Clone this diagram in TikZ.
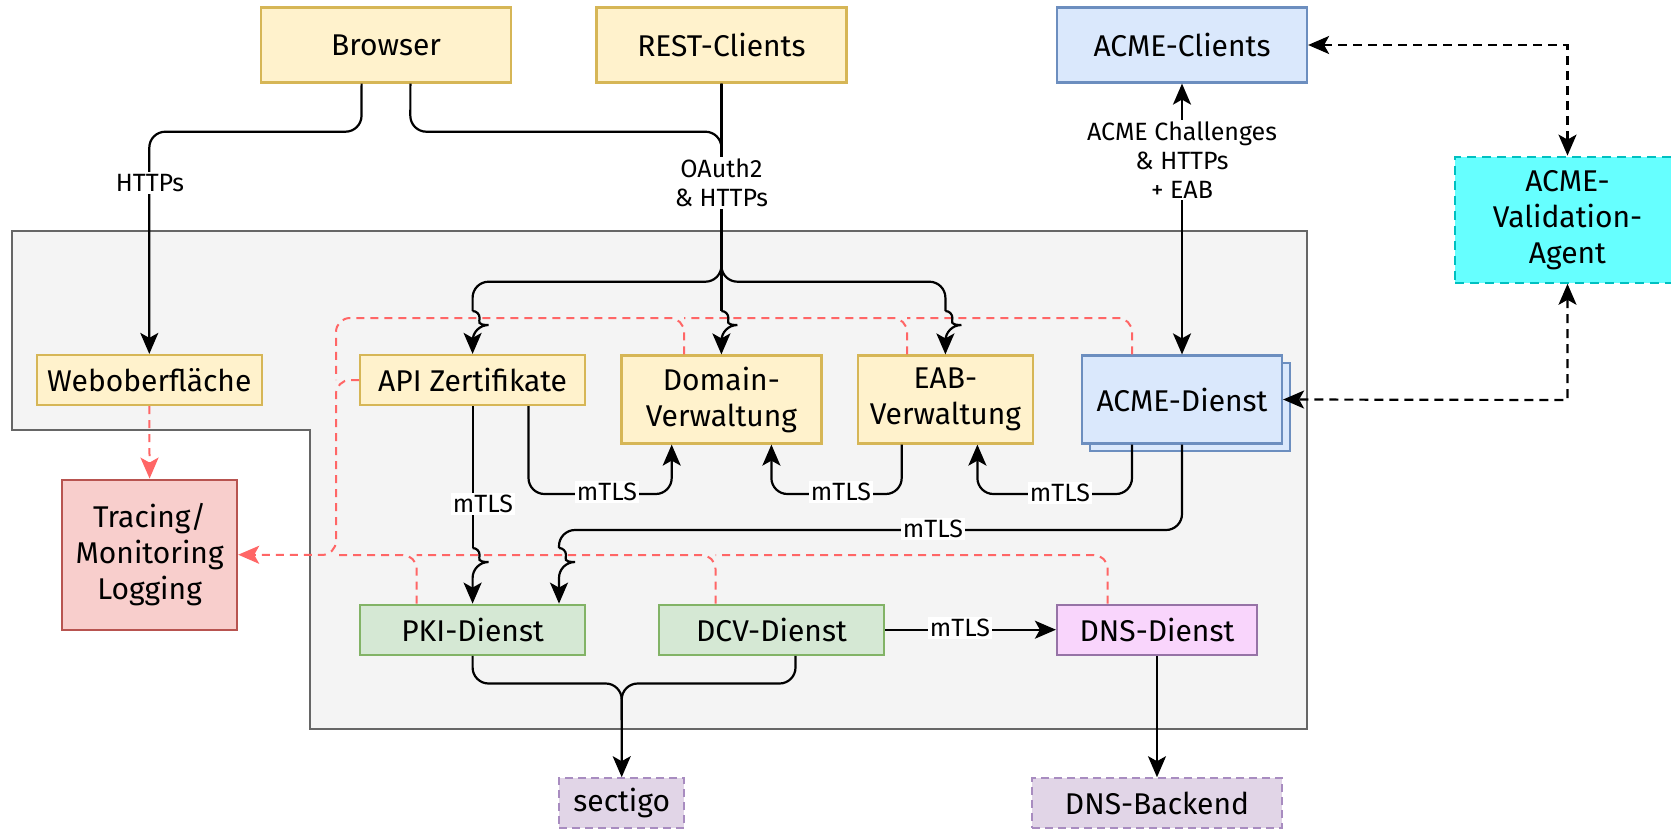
\documentclass[tikz,border=0pt]{standalone}
\usepackage{fontspec}
\setmainfont{Fira Sans}
\usetikzlibrary{arrows.meta,calc}
\definecolor{yfill}{HTML}{FFF2CC}
\definecolor{ystroke}{HTML}{D6B656}
\definecolor{bfill}{HTML}{DAE8FC}
\definecolor{bstroke}{HTML}{6C8EBF}
\definecolor{rfill}{HTML}{F8CECC}
\definecolor{rstroke}{HTML}{B85450}
\definecolor{gfill}{HTML}{D5E8D4}
\definecolor{gstroke}{HTML}{82B366}
\definecolor{pfill}{HTML}{F9D5FC}
\definecolor{pstroke}{HTML}{9673A6}
\definecolor{lfill}{HTML}{E1D5E7}
\definecolor{lstroke}{HTML}{A88CC0}
\definecolor{cfill}{HTML}{66FFFF}
\definecolor{cstroke}{HTML}{00C0C0}
\definecolor{grayfill}{HTML}{F4F4F4}
\definecolor{graystroke}{HTML}{666666}
\definecolor{logred}{HTML}{FF6666}
\begin{document}
\begin{tikzpicture}[x=1pt,y=-1pt,
  box/.style={draw, line width=2.2pt, inner sep=0pt, align=center, font=\fontsize{30}{36}\selectfont},
  ybox/.style={box, fill=yfill, draw=ystroke},
  bbox/.style={box, fill=bfill, draw=bstroke},
  rbox/.style={box, fill=rfill, draw=rstroke},
  gbox/.style={box, fill=gfill, draw=gstroke},
  pbox/.style={box, fill=pfill, draw=pstroke},
  lbox/.style={box, fill=lfill, draw=lstroke, dash pattern=on 8pt off 5pt},
  cbox/.style={box, fill=cfill, draw=cstroke, dash pattern=on 9pt off 6pt},
  conn/.style={line width=2.2pt, rounded corners=16pt},
  tip/.style={-{Stealth[length=21pt,width=18pt,inset=5pt]}},
  tips/.style={{Stealth[length=21pt,width=18pt,inset=5pt]}-{Stealth[length=21pt,width=18pt,inset=5pt]}},
  bdash/.style={line width=2.2pt, dash pattern=on 9pt off 6pt},
  lbl/.style={fill=white, inner sep=2pt, align=center, font=\fontsize{25}{29}\selectfont},
  logl/.style={draw=logred, line width=2pt, dash pattern=on 8pt off 6pt, rounded corners=14pt},
  logtip/.style={-{Stealth[length=21pt,width=18pt,inset=5pt]}},
]
\useasboundingbox (0,0) rectangle (1671,833);
\clip (0,0) rectangle (1671,833);
\fill[white] (0,0) rectangle (1671,833);

% container
\draw[fill=grayfill, draw=graystroke, line width=2.2pt]
  (12,230.7) -- (1306.8,230.7) -- (1306.8,729.3) -- (310,729.3) -- (310,430) -- (12,430) -- cycle;

% nodes
\node[ybox, minimum width=250pt, minimum height=75pt] (browser) at (386,45) {Browser};
\node[ybox, minimum width=250pt, minimum height=75pt] (rest) at (721.4,45) {REST-Clients};
\node[bbox, minimum width=250pt, minimum height=75pt] (acmec) at (1182,45) {ACME-Clients};
\node[cbox, minimum width=225pt, minimum height=126pt] (agent) at (1567.5,219.7) {ACME-\\Validation-\\Agent};
\node[ybox, minimum width=225pt, minimum height=50pt] (web) at (149.3,380) {Weboberfläche};
\node[ybox, minimum width=225pt, minimum height=50pt] (api) at (472.6,380) {API Zertifikate};
\node[ybox, minimum width=200pt, minimum height=88pt] (domain) at (721.4,399.5) {Domain-\\Verwaltung};
\node[ybox, minimum width=175pt, minimum height=88pt] (eab) at (945.4,399.5) {EAB-\\Verwaltung};
\draw[fill=bfill, draw=bstroke, line width=2.2pt] (1090,363) rectangle (1290,451);
\node[bbox, minimum width=200pt, minimum height=88pt] (acmed) at (1182,399.5) {ACME-Dienst};
\node[rbox, minimum width=175pt, minimum height=150pt] (tracing) at (149.6,554.7) {Tracing/\\Monitoring\\Logging};
\node[gbox, minimum width=225pt, minimum height=50pt] (pki) at (472.6,629.7) {PKI-Dienst};
\node[gbox, minimum width=225pt, minimum height=50pt] (dcv) at (771.5,629.7) {DCV-Dienst};
\node[pbox, minimum width=200pt, minimum height=50pt] (dns) at (1157,629.7) {DNS-Dienst};
\node[lbox, minimum width=125pt, minimum height=50pt] (sectigo) at (621.7,803.3) {sectigo};
\node[lbox, minimum width=250pt, minimum height=50pt] (dnsb) at (1157,803.3) {DNS-Backend};

% logging (red dashed)
\coordinate (logtop) at (336,318);
\coordinate (logbot) at (336,555);
\draw[logl,logtip] (api.west) -- (336,380) -- (logbot) -- (tracing.east);
\draw[logl] ($(domain.north)+(-37.4,0)$) -- (684,318) -- (logtop) -- (336,380);
\draw[logl] ($(eab.north)+(-38.4,0)$) -- (907,318) -- (684,318);
\draw[logl] ($(acmed.north)+(-50,0)$) -- (1132,318) -- (907,318);
\draw[logl] ($(pki.north)+(-55.9,0)$) -- (416.7,555) -- (logbot);
\draw[logl] ($(dcv.north)+(-56,0)$) -- (715.5,555) -- (416.7,555);
\draw[logl] ($(dns.north)+(-49.3,0)$) -- (1107.7,555) -- (715.5,555);
\draw[logl,logtip] (web.south) -- (tracing.north);

% Browser
\draw[conn,tip] ($(browser.south)+(-24.4,0)$) -- (361.5,131.7) -- (149.3,131.7) -- (web.north);
\draw[conn] ($(browser.south)+(24.4,0)$) -- (410.3,131.7) -- (721.4,131.7) -- (721.4,190);

% REST
\draw[conn] (rest.south) -- (721.4,281.7) -- (472.6,281.7) -- (472.6,311);
\draw[conn,tip] (472.6,311) arc[start angle=-90,end angle=90,radius=7] -- (api.north);
\draw[conn] (rest.south) -- (721.4,311);
\draw[conn,tip] (721.4,311) arc[start angle=-90,end angle=90,radius=7] -- (domain.north);
\draw[conn] (rest.south) -- (721.4,281.7) -- (945.4,281.7) -- (945.4,311);
\draw[conn,tip] (945.4,311) arc[start angle=-90,end angle=90,radius=7] -- (eab.north);

% ACME clients <-> ACME dienst
\draw[line width=2.2pt,tips] (acmec.south) -- (acmed.north);
% Agent
\draw[bdash,tips] (acmec.east) -- (1567.5,45) -- (agent.north);
\draw[bdash,tips] (agent.south) -- (1567.5,400) -- (acmed.east);

% mTLS connections
\draw[conn] ($(api.south)$) -- (472.6,548);
\draw[conn,tip] (472.6,548) arc[start angle=-90,end angle=90,radius=7] -- (pki.north);
\draw[conn,tip] ($(api.south)+(55.9,0)$) -- (528.5,494) -- (671.7,494) -- ($(domain.south)+(-49.7,0)$);
\draw[conn,tip] ($(eab.south)+(-43.7,0)$) -- (901.7,494) -- (771.4,494) -- ($(domain.south)+(50,0)$);
\draw[conn,tip] ($(acmed.south)+(-50,0)$) -- (1132,494) -- (977.4,494) -- ($(eab.south)+(32,0)$);
\draw[conn] (acmed.south) -- (1182,530) -- (559,530) -- (559,548);
\draw[conn,tip] (559,548) arc[start angle=-90,end angle=90,radius=7] -- ($(pki.north)+(86.4,0)$);
\draw[line width=2.2pt,tip] (dcv.east) -- (dns.west);
\draw[conn,tip] (pki.south) -- (472.6,683.5) -- (621.7,683.5) -- (sectigo.north);
\draw[conn] ($(dcv.south)+(24,0)$) -- (795.5,683.5) -- (621.7,683.5) -- (621.7,720);
\draw[line width=2.2pt,tip] (dns.south) -- (dnsb.north);

% labels
\node[lbl] (lhttps) at (150,183) {HTTPs};
\node[lbl] (loauth) at (721.4,183) {OAuth2\\\& HTTPs};
\node[lbl] (lacme) at (1182,160) {ACME Challenges\\\& HTTPs\\+ EAB};
\node[lbl] (m1) at (483,504) {mTLS};
\node[lbl] (m2) at (607,492) {mTLS};
\node[lbl] (m3) at (841,492) {mTLS};
\node[lbl] (m4) at (1060,493) {mTLS};
\node[lbl] (m5) at (933,529) {mTLS};
\node[lbl] (m6) at (960,628) {mTLS};
\end{tikzpicture}
\end{document}
